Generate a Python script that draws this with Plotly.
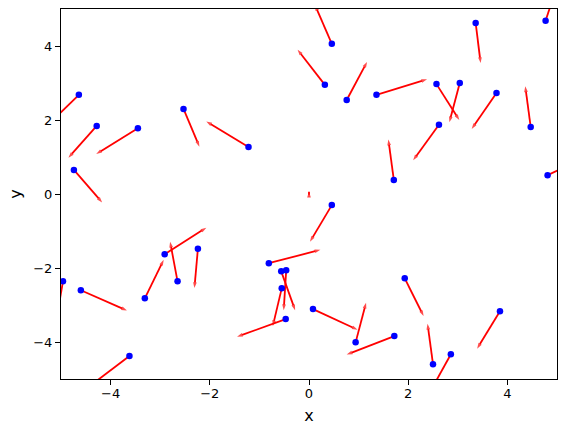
import plotly.graph_objects as go

# point positions and arrow vectors (data units)
x_pos = [-4.64, -4.28, -3.45, -2.53, -1.22, 0.46, 0.32, 0.76, 1.36, 3.36,
         4.77, 2.57, 3.04, 3.78, 4.47, 2.62, -4.74, -2.91, -2.24, 0.46,
         -0.81, 1.71, 4.81, -4.96, -4.60, -3.31, -2.65, -3.62, 0.08, 0.94,
         1.72, 1.93, 2.50, 2.86, 3.85, -0.56, -0.46, -0.55, -0.47]
y_pos = [2.68, 1.84, 1.78, 2.30, 1.27, 4.06, 2.95, 2.54, 2.68, 4.62,
         4.68, 2.97, 3.00, 2.73, 1.81, 1.87, 0.65, -1.63, -1.48, -0.30,
         -1.87, 0.38, 0.51, -2.36, -2.60, -2.82, -2.36, -4.38, -3.11, -4.01,
         -3.84, -2.28, -4.60, -4.33, -3.17, -2.09, -2.06, -2.55, -3.38]
u_vec = [-0.67, -0.57, -0.84, 0.32, -0.85, -0.34, -0.55, 0.41, 1.02, 0.10,
         0.26, 0.46, -0.21, -0.50, -0.11, -0.52, 0.57, 0.84, -0.07, -0.44,
         1.04, -0.11, 0.94, -0.14, 0.93, 0.38, -0.15, -0.77, 0.90, 0.21,
         -0.96, 0.38, -0.11, -0.42, -0.46, 0.28, -0.05, -0.18, -0.98]
v_vec = [-0.87, -0.86, -0.70, -1.02, 0.69, 1.05, 0.95, 1.03, 0.42, -1.08,
         1.07, -0.97, -1.06, -0.97, 1.10, -0.96, -0.88, 0.72, -1.06, -0.99,
         0.36, 1.09, 0.58, -1.09, -0.55, 1.04, 1.07, -0.78, -0.56, 1.07,
         -0.50, -1.02, 1.09, -1.02, -1.01, -1.05, -1.08, -1.02, -0.48]

# a tiny arrow near the origin without a point
tiny_x = [0.0]
tiny_y = [-0.02]
tiny_u = [0.0]
tiny_v = [0.08]

x_ticks = [-4, -2, 0, 2, 4]
y_ticks = [-4, -2, 0, 2, 4]

ax_x, ax_y = [], []
sizes = []
for xs, ys, us, vs in [(x_pos, y_pos, u_vec, v_vec), (tiny_x, tiny_y, tiny_u, tiny_v)]:
    for x0, y0, du, dv in zip(xs, ys, us, vs):
        ax_x += [x0, x0 + du, None]
        ax_y += [y0, y0 + dv, None]
        sizes += [0, 6, 0]

fig = go.Figure()
fig.add_trace(go.Scatter(
    x=ax_x, y=ax_y, mode="lines+markers",
    line=dict(color="red", width=1.8),
    marker=dict(symbol="arrow", size=sizes, color="red", angleref="previous",
                line=dict(width=0)),
    hoverinfo="skip", showlegend=False,
))
fig.add_trace(go.Scatter(
    x=x_pos, y=y_pos, mode="markers",
    marker=dict(color="blue", size=6.5, line=dict(width=0)),
    showlegend=False,
))

axis_common = dict(
    showgrid=False, zeroline=False, showline=True, linecolor="black",
    linewidth=1, mirror=True, ticks="outside", ticklen=5, tickwidth=1,
    tickcolor="black", tickfont=dict(family="DejaVu Sans", size=13, color="black"),
)
fig.update_layout(
    width=565, height=432,
    margin=dict(l=61, r=8, t=9, b=53),
    paper_bgcolor="white", plot_bgcolor="white",
    font=dict(family="DejaVu Sans", size=13, color="black"),
    xaxis=dict(range=[-5, 5], tickvals=x_ticks, ticklabelstandoff=-3,
               title=dict(text="x", standoff=10), **axis_common),
    yaxis=dict(range=[-5, 5], tickvals=y_ticks,
               title=dict(text="y", standoff=7), **axis_common),
)
fig.write_html("out.html", config={"displayModeBar": False},
               post_script="document.body.style.margin='0';")
